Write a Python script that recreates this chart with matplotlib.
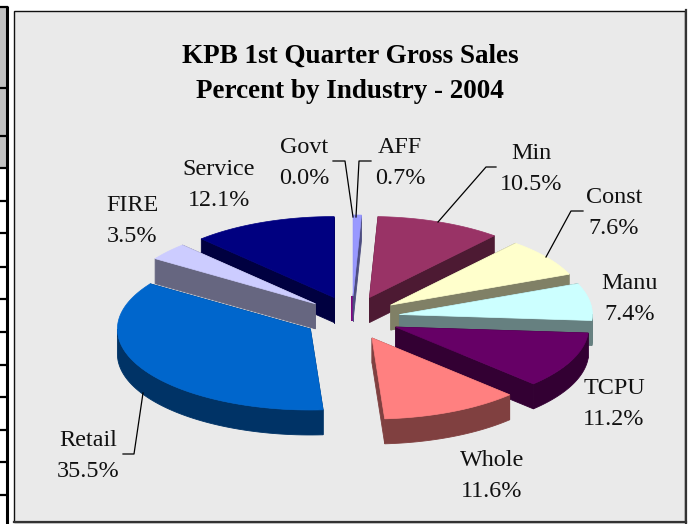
import matplotlib
matplotlib.use("Agg")
import matplotlib.pyplot as plt
from matplotlib.patches import Polygon, Rectangle
import numpy as np

# clockwise from 12 o'clock, the way excel draws it
industries = ['AFF', 'Min', 'Const', 'Manu', 'TCPU', 'Whole', 'Retail', 'FIRE', 'Service', 'Govt']
percents = [0.7, 10.5, 7.6, 7.4, 11.2, 11.6, 35.5, 3.5, 12.1, 0.0]
top_colors = ['#9999FF', '#993366', '#FFFFCC', '#CCFFFF', '#660066',
              '#FF8080', '#0066CC', '#CCCCFF', '#000080', '#FF00FF']
side_colors = ['#4D4D80', '#4D1A33', '#808066', '#668080', '#330033',
               '#804040', '#003366', '#666680', '#000040', '#800080']
label_xy = [(400, 160), (531, 166), (614, 210), (630, 296), (614, 401),
            (492, 473), (88, 453), (132, 218), (219, 182), (304, 160)]
leaders = [[(371, 161), (359, 161), (356, 217)],
           [(496, 167), (486, 167), (438, 222)],
           [(583, 211), (571, 211), (546, 257)],
           [(123, 454), (134, 454), (143, 393)],
           [(333, 161), (345, 161), (353, 217)]]
# back to front
draw_order = [8, 7, 6, 9, 0, 1, 2, 3, 4, 5]

# table rows of the sheet showing at the left edge
row_lines = [7, 88, 136, 168, 201, 233, 267, 299, 332, 365, 397, 430, 462, 495]

CX, CY = 352, 318
RX, RY = 193, 81
EX, EY = 48, 22
DEPTH = 25


def ring(deg, ox, oy, drop=0):
    rad = np.radians(deg)
    return np.column_stack([ox + RX * np.sin(rad), oy - RY * np.cos(rad) + drop])


def draw_slice(ax, t0, t1, top, side):
    mid = np.radians((t0 + t1) / 2)
    ox = CX + EX * np.sin(mid)
    oy = CY - EY * np.cos(mid)
    tip = np.array([[ox, oy]])
    low = np.array([[ox, oy + DEPTH]])

    # a zero slice only shows as a sliver below its tip
    if t1 - t0 < 0.01:
        ax.plot([ox, ox], [oy, oy + DEPTH], color=side, lw=1.4, solid_capstyle='butt', zorder=3)
        return

    # the two cut faces
    for t in (t0, t1):
        edge = ring(np.array([t]), ox, oy)
        edge_low = ring(np.array([t]), ox, oy, DEPTH)
        pts = np.vstack([tip, edge, edge_low, low])
        ax.add_patch(Polygon(pts, fc=side, ec=side, lw=0.6, zorder=3))

    # outer wall, only the part facing us
    a = max(t0, 90)
    b = min(t1, 270)
    if b > a:
        ts = np.linspace(a, b, 60)
        pts = np.vstack([ring(ts, ox, oy), ring(ts[::-1], ox, oy, DEPTH)])
        ax.add_patch(Polygon(pts, fc=side, ec=side, lw=0.6, zorder=3))

    ts = np.linspace(t0, t1, 120)
    pts = np.vstack([tip, ring(ts, ox, oy)])
    ax.add_patch(Polygon(pts, fc=top, ec=top, lw=0.5, zorder=3))


def main():
    plt.rcParams['font.family'] = ['Liberation Serif', 'DejaVu Serif']
    fig = plt.figure(figsize=(6.91, 5.24), dpi=100)
    ax = fig.add_axes([0, 0, 1, 1])
    ax.set_xlim(0, 691)
    ax.set_ylim(524, 0)
    ax.axis('off')

    # sheet cells behind the chart
    ax.add_patch(Rectangle((0, row_lines[0]), 7, row_lines[3] - row_lines[0], fc='#C0C0C0', ec='none'))
    ax.plot([7.5, 7.5], [row_lines[0] - 1, 524], color='black', lw=2.2, solid_capstyle='butt')
    for y in row_lines:
        ax.plot([0, 8], [y, y], color='black', lw=1.6, solid_capstyle='butt')

    # chart area
    ax.add_patch(Rectangle((14.5, 10.5), 671, 511, fc='#EAEAEA', ec='#111111', lw=1.0, zorder=1))
    ax.plot([686, 686], [10, 523], color='#333333', lw=1.6, zorder=2)
    ax.plot([14, 686], [522, 522], color='#333333', lw=1.6, zorder=2)

    frac = np.array(percents) / sum(percents)
    edges = np.concatenate([[0], np.cumsum(frac) * 360])
    for i in draw_order:
        draw_slice(ax, edges[i], edges[i + 1], top_colors[i], side_colors[i])

    for line in leaders:
        xs, ys = zip(*line)
        ax.plot(xs, ys, color='black', lw=0.9, zorder=4)

    for name, pct, (x, y) in zip(industries, percents, label_xy):
        ax.text(x, y + 3, f"{name}\n{pct:.1f}%", ha='center', va='center', fontsize=17.4,
                linespacing=1.62, color='#111111', zorder=5)

    ax.text(350, 74, "KPB 1st Quarter Gross Sales\nPercent by Industry - 2004", ha='center', va='center',
            fontsize=19.5, fontweight='bold', linespacing=1.55, color='black', zorder=5)

    fig.savefig('out.png', dpi=100)


if __name__ == "__main__":
    main()
